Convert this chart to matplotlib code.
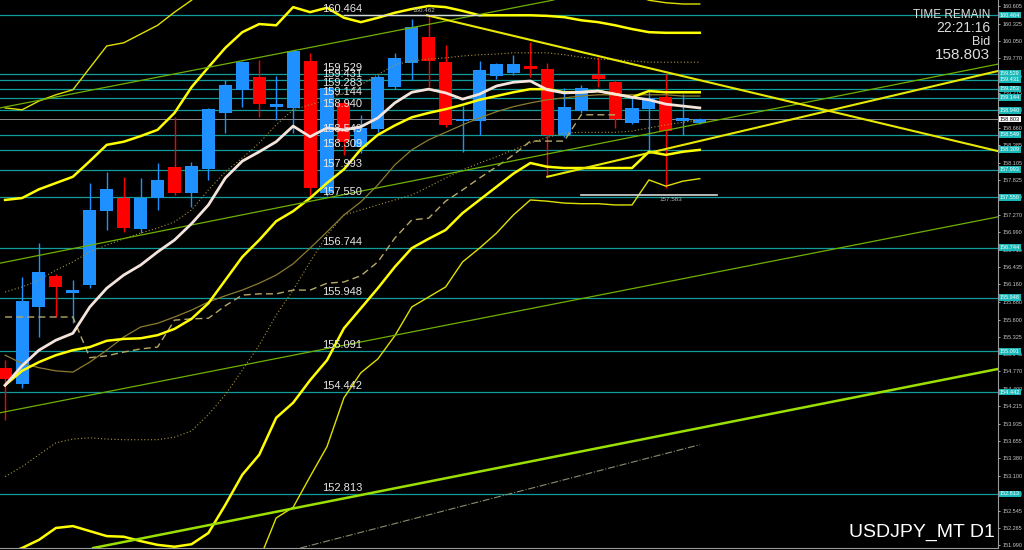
import matplotlib
matplotlib.use("Agg")
import matplotlib.pyplot as plt
import numpy as np

plt.rcParams['font.family'] = ['Liberation Sans', 'DejaVu Sans']

# daily candles USDJPY (oldest -> newest)
opens = [154.825, 154.570, 155.800, 156.295, 156.030, 156.151, 157.333, 157.541, 157.046, 157.541,
         158.036, 157.621, 158.004, 158.899, 159.266, 159.474, 158.995, 158.979, 159.730, 157.621,
         159.059, 158.356, 158.643, 159.314, 159.698, 160.113, 159.714, 158.771, 158.771, 159.490,
         159.538, 159.650, 159.602, 158.547, 158.931, 159.506, 159.394, 158.739, 158.963, 159.154,
         158.771, 158.739]
highs = [154.95, 156.279, 156.822, 156.33, 156.231, 157.781, 157.956, 157.876, 157.860, 158.100,
         158.835, 158.116, 158.98, 159.426, 159.73, 159.746, 159.490, 159.90, 159.857, 159.31,
         159.10, 158.867, 159.50, 159.857, 160.40, 160.462, 159.985, 159.011, 159.730, 159.70,
         159.825, 160.033, 159.698, 159.298, 159.346, 159.793, 159.42, 159.139, 159.266, 159.522,
         159.202, 158.82]
lows = [153.995, 154.506, 155.321, 155.640, 155.544, 156.104, 157.030, 157.00, 156.98, 157.349,
        157.589, 157.397, 157.829, 158.579, 158.995, 158.835, 158.787, 158.579, 157.557, 157.58,
        158.228, 158.260, 158.60, 159.28, 159.426, 159.314, 158.68, 158.276, 158.547, 159.45,
        159.50, 159.474, 157.876, 158.52, 158.90, 159.314, 158.659, 158.72, 158.308, 157.70,
        158.547, 158.72]
closes = [154.650, 155.896, 156.359, 156.119, 156.045, 157.349, 157.685, 157.062, 157.541, 157.829,
          157.621, 158.052, 158.963, 159.346, 159.714, 159.043, 159.005, 159.889, 157.701, 159.298,
          158.436, 158.659, 159.474, 159.778, 160.273, 159.730, 158.707, 158.785, 159.586, 159.682,
          159.682, 159.602, 158.547, 158.995, 159.298, 159.442, 158.803, 158.979, 159.139, 158.611,
          158.819, 158.803]

# indicator lines, one value per candle
ma_fast = [154.55, 154.86, 155.11, 155.27, 155.38, 155.80, 156.10, 156.31, 156.47, 156.68,
           156.87, 157.13, 157.43, 157.86, 158.13, 158.28, 158.44, 158.69, 158.52, 158.66,
           158.63, 158.68, 158.82, 159.06, 159.23, 159.28, 159.22, 159.12, 159.20, 159.33,
           159.39, 159.41, 159.27, 159.22, 159.23, 159.25, 159.20, 159.15, 159.11, 159.04,
           159.01, 158.98]
bb_up2 = [157.51, 157.54, 157.68, 157.78, 157.88, 158.13, 158.39, 158.44, 158.53, 158.63,
          158.90, 159.31, 159.63, 159.94, 160.19, 160.32, 160.30, 160.59, 160.51, 160.58,
          160.42, 160.35, 160.42, 160.50, 160.56, 160.61, 160.59, 160.53, 160.46, 160.46,
          160.46, 160.46, 160.45, 160.43, 160.38, 160.35, 160.30, 160.24, 160.19, 160.18,
          160.18, 160.18]
bb_up3 = [158.98, 158.95, 159.09, 159.19, 159.27, 159.62, 159.97, 160.02, 160.16, 160.30,
          160.51, 160.70, 160.94, 161.15, 161.35, 161.50, 161.60, 161.75, 161.80, 161.85,
          161.85, 161.80, 161.80, 161.85, 161.90, 161.95, 161.90, 161.80, 161.70, 161.60,
          161.50, 161.40, 161.30, 161.20, 161.10, 161.00, 160.90, 160.80, 160.70, 160.66,
          160.64, 160.64]
ma_slow = [154.55, 154.78, 154.92, 155.03, 155.11, 155.16, 155.26, 155.29, 155.30, 155.35,
           155.45, 155.61, 155.86, 156.23, 156.60, 156.87, 157.17, 157.33, 157.54, 157.78,
           158.00, 158.32, 158.55, 158.70, 158.83, 158.90, 158.96, 159.03, 159.11, 159.17,
           159.23, 159.28, 159.28, 159.23, 159.23, 159.25, 159.20, 159.15, 159.25, 159.23,
           159.23, 159.23]
bb_lo2 = [151.84, 151.95, 152.08, 152.27, 152.30, 152.22, 152.14, 152.13, 152.06, 152.00,
          151.97, 152.01, 152.19, 152.64, 153.12, 153.44, 154.03, 154.27, 154.63, 154.95,
          155.46, 155.78, 156.10, 156.44, 156.74, 156.89, 157.03, 157.30, 157.51, 157.72,
          157.93, 158.10, 158.04, 158.02, 158.02, 158.02, 158.02, 158.02, 158.28, 158.23,
          158.28, 158.31]
bb_lo3_start = 15
bb_lo3 = [151.76, 152.43, 152.60, 153.09, 153.57, 154.35, 154.75, 154.97, 155.34, 155.80,
          155.96, 156.12, 156.52, 156.74, 156.98, 157.27, 157.51, 157.49, 157.46, 157.45,
          157.45, 157.43, 157.43, 157.83, 157.73, 157.81, 157.85]
dots_up = [156.04, 156.12, 156.23, 156.39, 156.52, 156.68, 156.79, 156.89, 156.98, 157.06,
           157.16, 157.35, 157.67, 157.96, 158.18, 158.42, 158.71, 158.95, 159.03, 159.11,
           159.22, 159.35, 159.51, 159.67, 159.73, 159.76, 159.78, 159.81, 159.83, 159.84,
           159.86, 159.86, 159.86, 159.83, 159.79, 159.76, 159.75, 159.73, 159.71, 159.71,
           159.71, 159.71]
dots_lo = [153.09, 153.25, 153.44, 153.63, 153.69, 153.71, 153.69, 153.68, 153.68, 153.68,
           153.72, 153.82, 154.08, 154.40, 154.79, 155.19, 155.67, 156.07, 156.52, 156.95,
           157.27, 157.35, 157.43, 157.51, 157.59, 157.72, 157.86, 157.99, 158.10, 158.20,
           158.31, 158.42, 158.51, 158.58, 158.59, 158.59, 158.59, 158.61, 158.66, 158.71,
           158.75, 158.79]
kijun = [155.64, 155.64, 155.64, 155.64, 155.64, 154.99, 155.02, 155.08, 155.13, 155.16,
         155.59, 155.61, 155.62, 155.82, 155.99, 156.01, 156.01, 156.07, 156.07, 156.18,
         156.20, 156.30, 156.52, 156.90, 157.19, 157.22, 157.49, 157.67, 157.86, 158.04,
         158.23, 158.45, 158.45, 158.45, 158.87, 158.87, 158.87]
olive_ma = [155.03, 154.90, 154.83, 154.78, 154.76, 154.92, 155.11, 155.32, 155.48, 155.54,
            155.64, 155.75, 155.88, 155.98, 156.07, 156.18, 156.31, 156.49, 156.74, 157.00,
            157.27, 157.48, 157.75, 158.07, 158.31, 158.47, 158.59, 158.71, 158.82, 158.92,
            159.00, 159.06, 159.11, 159.14, 159.17, 159.19, 159.19, 159.19, 159.19, 159.19,
            159.17, 159.17]

# horizontal levels
levels = [160.464, 159.529, 159.431, 159.283, 159.144, 158.940, 158.549, 158.309,
          157.993, 157.550, 156.744, 155.948, 155.091, 154.442, 152.813]
bid = 158.803
high_mark, high_idx = 160.462, 25
low_mark, low_idx = 157.583, 39

# trend lines: (index, price) anchors
green_lines = [((-0.3, 158.98), (32.3, 160.70)),
               ((-0.3, 156.50), (58.6, 159.68)),
               ((-0.3, 154.11), (58.6, 157.24))]
lime_line = ((5.2, 151.95), (58.6, 154.81))
yellow_down = ((24.9, 160.46), (58.6, 158.29))
yellow_up = ((32.0, 157.88), (58.6, 159.57))
grey_ray = ((14.0, 151.71), (41.0, 153.60))

axis_ticks = [160.605, 160.325, 160.050, 159.770, 159.495, 159.215, 158.940, 158.660, 158.385,
              158.105, 157.825, 157.550, 157.270, 156.990, 156.715, 156.435, 156.160, 155.880,
              155.600, 155.325, 155.045, 154.770, 154.490, 154.215, 153.935, 153.655, 153.380,
              153.100, 152.820, 152.545, 152.265, 151.990]

fig = plt.figure(figsize=(10.24, 5.5), dpi=100, facecolor='black')
ax = fig.add_axes([0, 2 / 550, 998 / 1024, 548 / 550])
ax.set_facecolor('black')
ax.set_xlim(-0.3, 58.6)
ax.set_ylim(151.950, 160.704)

for lv in levels:
    ax.axhline(lv, color='#139a9a', lw=0.9, zorder=1)
    ax.text(18.7, lv + 0.015, f"{lv:.3f}", color='#e6e6e6', fontsize=8, va='bottom', ha='left', zorder=6)
ax.axhline(bid, color='#8c8c8c', lw=0.7, zorder=1)

# candles
x = np.arange(len(opens))
o, h, l, c = map(np.array, (opens, highs, lows, closes))
up = c >= o
cols = np.where(up, '#1e90ff', '#ff0000')
ax.vlines(x, l, h, colors=cols, lw=1, zorder=2)
body_lo = np.minimum(o, c)
body_h = np.maximum(np.abs(c - o), 0.04)
ax.bar(x, body_h, bottom=body_lo, width=0.77, color=cols, zorder=3)

# indicators
ax.plot(x, dots_up, color='#a89540', lw=0.8, ls=(0, (1, 2)), zorder=4)
ax.plot(x, dots_lo, color='#a89540', lw=0.8, ls=(0, (1, 2)), zorder=4)
ax.plot(x[:len(kijun)], kijun, color='#b8a868', lw=1.0, ls=(0, (5, 3)), zorder=4)
ax.plot(x, olive_ma, color='#8c7c30', lw=0.9, zorder=4)
ax.plot(x, bb_up3, color='#e0e000', lw=1.0, zorder=4)
ax.plot(x[bb_lo3_start:], bb_lo3, color='#e0e000', lw=1.0, zorder=4)
ax.plot(x, bb_up2, color='#ffff00', lw=1.8, zorder=4)
ax.plot(x, ma_slow, color='#ffff00', lw=1.8, zorder=4)
ax.plot(x, bb_lo2, color='#ffff00', lw=1.8, zorder=4)
ax.plot(x, ma_fast, color='#f4e4dc', lw=2.0, zorder=5)

for p1, p2 in green_lines:
    ax.axline(p1, p2, color='#6fb000', lw=0.9, zorder=4)
ax.axline(lime_line[0], lime_line[1], color='#9be000', lw=1.8, zorder=4)
for (x1, y1), (x2, y2) in (yellow_down, yellow_up):
    ax.plot([x1, x2], [y1, y2], color='#e8e800', lw=1.5, zorder=4)
ax.plot([grey_ray[0][0], grey_ray[1][0]], [grey_ray[0][1], grey_ray[1][1]],
        color='#8c8c70', lw=0.8, ls='-.', zorder=4)

# high / low markers
ax.plot([high_idx - 5, high_idx + 3], [high_mark, high_mark], color='#d8d8d8', lw=1, zorder=5)
ax.text(high_idx - 0.3, high_mark + 0.03, f"{high_mark:.3f}", color='#bbbbbb', fontsize=4.5, ha='center', va='bottom', zorder=6)
ax.plot([low_idx - 5, low_idx + 3], [low_mark, low_mark], color='#d8d8d8', lw=1.2, zorder=5)
ax.text(low_idx + 0.3, low_mark - 0.03, f"{low_mark:.3f}", color='#bbbbbb', fontsize=4.5, ha='center', va='top', zorder=6)

# right price axis
for s in ('left', 'top'):
    ax.spines[s].set_visible(False)
for s in ('right', 'bottom'):
    ax.spines[s].set_color('#9a9a9a')
ax.set_xticks([])
ax.yaxis.tick_right()
ax.set_yticks(axis_ticks)
ax.set_yticklabels([f"{t:.3f}" for t in axis_ticks])
ax.tick_params(axis='y', colors='#c8c8c8', labelsize=4, length=1.5, pad=1.5, width=0.6)
tr = ax.get_yaxis_transform()
for lv in levels:
    ax.text(1.002, lv, f"{lv:.3f}", transform=tr, fontsize=4, color='white', va='center', ha='left',
            bbox=dict(facecolor='#1ab8b8', edgecolor='none', pad=0.7), clip_on=False, zorder=7)
ax.text(1.002, bid, f"{bid:.3f}", transform=tr, fontsize=4, color='black', va='center', ha='left',
        bbox=dict(facecolor='white', edgecolor='none', pad=0.7), clip_on=False, zorder=7)

# info text
fig.text(990 / 1024, 1 - 15 / 550, "TIME REMAIN", color='#dddddd', fontsize=8.5, ha='right', va='center')
fig.text(990 / 1024, 1 - 28 / 550, "22:21:16", color='#dddddd', fontsize=10, ha='right', va='center')
fig.text(990 / 1024, 1 - 42 / 550, "Bid", color='#dddddd', fontsize=9, ha='right', va='center')
fig.text(990 / 1024, 1 - 55 / 550, f"{bid:.3f}", color='#dddddd', fontsize=11, ha='right', va='center')
fig.text(995 / 1024, 1 - 532 / 550, "USDJPY_MT D1", color='white', fontsize=14, ha='right', va='center')

fig.savefig('out.png', dpi=100, facecolor='black')
